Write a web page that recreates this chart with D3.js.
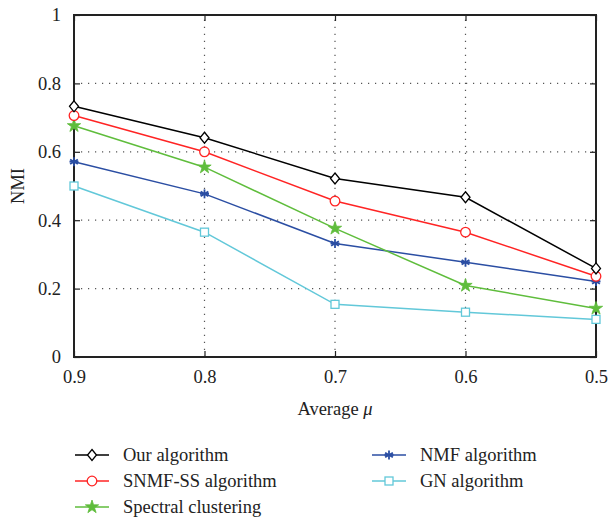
<!DOCTYPE html>
<html>
<head>
<meta charset="utf-8">
<script src="https://cdn.jsdelivr.net/npm/d3@7"></script>
<style>
  body { margin: 0; background: #fff; }
  svg text { font-family: "Liberation Serif", "DejaVu Serif", serif !important; fill: #222; }
</style>
</head>
<body>
<script>
const width = 608;
const height = 520;

const muValues = [0.9, 0.8, 0.7, 0.6, 0.5];
const yTicks = [0, 0.2, 0.4, 0.6, 0.8, 1];
const seriesNames = ["Our algorithm", "SNMF-SS algorithm", "Spectral clustering", "NMF algorithm", "GN algorithm"];
const ourValues = [0.733, 0.641, 0.522, 0.467, 0.259];
const snmfValues = [0.706, 0.600, 0.456, 0.365, 0.236];
const spectralValues = [0.676, 0.555, 0.376, 0.209, 0.142];
const nmfValues = [0.571, 0.477, 0.332, 0.277, 0.221];
const gnValues = [0.500, 0.365, 0.154, 0.131, 0.110];

const color = {
    our: "#000000",
    snmf: "#ff2424",
    spectral: "#5fbd3c",
    nmf: "#2b4ea3",
    gn: "#62c8d9",
    grid: "#555",
    frame: "#222"
};

const series = [
    {name: seriesNames[0], values: ourValues, color: color.our, marker: "diamond"},
    {name: seriesNames[1], values: snmfValues, color: color.snmf, marker: "circle"},
    {name: seriesNames[2], values: spectralValues, color: color.spectral, marker: "star"},
    {name: seriesNames[3], values: nmfValues, color: color.nmf, marker: "asterisk"},
    {name: seriesNames[4], values: gnValues, color: color.gn, marker: "square"}
];

const margin = {left: 74, right: 12, top: 15, bottom: 163};
const fontSize = 18.5;

let svg = d3.select("body").append("svg")
    .attr("width", width)
    .attr("height", height);

let x = d3.scaleLinear()
    .domain([0.9, 0.5])
    .range([margin.left, width - margin.right]);

let y = d3.scaleLinear()
    .domain([0, 1])
    .range([height - margin.bottom, margin.top]);

const x0 = x.range()[0], x1 = x.range()[1];
const y0 = y.range()[0], y1 = y.range()[1];

// dotted grid
let grid = svg.append("g");
grid.selectAll(".hgrid")
    .data(yTicks.filter(d => d > 0 && d < 1))
    .enter().append("line")
    .attr("x1", x0).attr("x2", x1)
    .attr("y1", d => y(d)).attr("y2", d => y(d))
    .attr("stroke", color.grid)
    .attr("stroke-width", 1.2)
    .attr("stroke-dasharray", "1.2,5.8");
grid.selectAll(".vgrid")
    .data(muValues.filter(d => d !== 0.9 && d !== 0.5))
    .enter().append("line")
    .attr("x1", d => x(d)).attr("x2", d => x(d))
    .attr("y1", y0).attr("y2", y1)
    .attr("stroke", color.grid)
    .attr("stroke-width", 1.2)
    .attr("stroke-dasharray", "1.2,5.8");

// axes with inward ticks
function styleAxis(g) {
    g.attr("font-family", "Liberation Serif").attr("font-size", fontSize);
    g.select(".domain").remove();
    g.selectAll(".tick line").attr("stroke", color.frame).attr("stroke-width", 1.2);
    g.selectAll(".tick text")
        .attr("font-family", "Liberation Serif")
        .attr("font-size", fontSize)
        .attr("fill", "#222");
}

svg.append("g")
    .attr("transform", "translate(" + x0 + ",0)")
    .call(d3.axisLeft(y).tickValues(yTicks).tickSize(-6).tickPadding(13)
        .tickFormat(d => String(d)))
    .call(styleAxis);
svg.append("g")
    .attr("transform", "translate(" + x1 + ",0)")
    .call(d3.axisRight(y).tickValues(yTicks).tickSize(-6).tickFormat(""))
    .call(styleAxis);
svg.append("g")
    .attr("transform", "translate(0," + y0 + ")")
    .call(d3.axisBottom(x).tickValues(muValues).tickSize(-6).tickPadding(13)
        .tickFormat(d3.format(".1f")))
    .call(styleAxis);
svg.append("g")
    .attr("transform", "translate(0," + y1 + ")")
    .call(d3.axisTop(x).tickValues(muValues).tickSize(-6).tickFormat(""))
    .call(styleAxis);

// frame
svg.append("rect")
    .attr("x", x0).attr("y", y1)
    .attr("width", x1 - x0).attr("height", y0 - y1)
    .attr("fill", "none")
    .attr("stroke", color.frame)
    .attr("stroke-width", 2);

// axis titles
let xTitle = svg.append("text")
    .attr("x", (x0 + x1) / 2)
    .attr("y", 415)
    .attr("text-anchor", "middle")
    .attr("font-size", fontSize);
xTitle.append("tspan").text("Average ");
xTitle.append("tspan").attr("font-style", "italic").text("\u03bc");

svg.append("text")
    .attr("transform", "translate(24," + ((y0 + y1) / 2) + ")rotate(-90)")
    .attr("text-anchor", "middle")
    .attr("font-size", fontSize)
    .text("NMI");

// markers
function drawMarker(g, type, c, cx, cy) {
    if (type === "diamond") {
        g.append("path")
            .attr("d", `M${cx},${cy - 5.5}L${cx + 4.5},${cy}L${cx},${cy + 5.5}L${cx - 4.5},${cy}Z`)
            .attr("fill", "#fff").attr("stroke", c).attr("stroke-width", 1.3);
    } else if (type === "circle") {
        g.append("circle").attr("cx", cx).attr("cy", cy).attr("r", 4.8)
            .attr("fill", "#fff").attr("stroke", c).attr("stroke-width", 1.3);
    } else if (type === "square") {
        g.append("rect").attr("x", cx - 4).attr("y", cy - 4).attr("width", 8).attr("height", 8)
            .attr("fill", "#fff").attr("stroke", c).attr("stroke-width", 1.3);
    } else if (type === "star") {
        g.append("path")
            .attr("d", d3.symbol().type(d3.symbolStar).size(55)())
            .attr("transform", "translate(" + cx + "," + cy + ")")
            .attr("fill", c).attr("stroke", c).attr("stroke-width", 0.8);
    } else if (type === "asterisk") {
        const r = 4.5;
        const a = g.append("g").attr("transform", "translate(" + cx + "," + cy + ")")
            .attr("stroke", c).attr("stroke-width", 1.8);
        [0, 60, 120].forEach(ang => {
            const rad = ang * Math.PI / 180;
            a.append("line")
                .attr("x1", -r * Math.sin(rad)).attr("y1", -r * Math.cos(rad))
                .attr("x2", r * Math.sin(rad)).attr("y2", r * Math.cos(rad));
        });
        a.append("line").attr("x1", -r).attr("x2", r).attr("y1", 0).attr("y2", 0);
    }
}

let line = d3.line()
    .x((d, i) => x(muValues[i]))
    .y(d => y(d));

let plotG = svg.append("g");
series.slice().reverse().forEach(s => {
    plotG.append("path")
        .datum(s.values)
        .attr("d", line)
        .attr("fill", "none")
        .attr("stroke", s.color)
        .attr("stroke-width", 1.5);
});
series.slice().reverse().forEach(s => {
    s.values.forEach((v, i) => drawMarker(plotG, s.marker, s.color, x(muValues[i]), y(v)));
});

// legend
const legendPos = [
    {lx: 75, ly: 455}, {lx: 75, ly: 481}, {lx: 75, ly: 507},
    {lx: 372, ly: 455}, {lx: 372, ly: 481}
];
let legend = svg.append("g");
series.forEach((s, i) => {
    const p = legendPos[i];
    legend.append("line")
        .attr("x1", p.lx).attr("x2", p.lx + 34)
        .attr("y1", p.ly).attr("y2", p.ly)
        .attr("stroke", s.color).attr("stroke-width", 1.5);
    drawMarker(legend, s.marker, s.color, p.lx + 17, p.ly);
    legend.append("text")
        .attr("x", p.lx + 48)
        .attr("y", p.ly + 6)
        .attr("font-size", fontSize)
        .text(s.name);
});
</script>
</body>
</html>
